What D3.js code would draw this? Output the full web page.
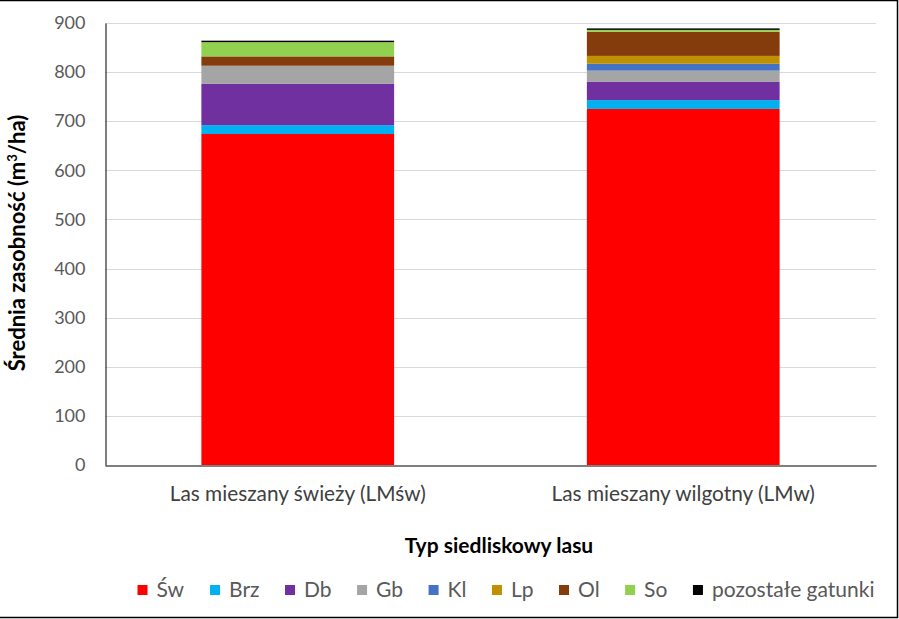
<!DOCTYPE html>
<html><head><meta charset="utf-8">
<script src="https://cdn.jsdelivr.net/npm/d3@7"></script>
<style>body{margin:0;background:#fff}svg{display:block}</style>
</head><body>
<svg id="c" width="899" height="619"></svg>
<script>
const categories = ["Las mieszany świeży (LMśw)", "Las mieszany wilgotny (LMw)"];
const speciesNames = ["Św", "Brz", "Db", "Gb", "Kl", "Lp", "Ol", "So", "pozostałe gatunki"];
const valSw  = [674, 725];
const valBrz = [18, 18];
const valDb  = [84, 37];
const valGb  = [37, 23];
const valKl  = [0, 14];
const valLp  = [0, 16];
const valOl  = [19, 49];
const valSo  = [29, 4];
const valPoz = [3, 3];
const yTicks = [0, 100, 200, 300, 400, 500, 600, 700, 800, 900];
const colors = ["#FF0000", "#00B0F0", "#7030A0", "#A5A5A5", "#4472C4", "#BF9000", "#843C0C", "#92D050", "#000000"];

const seriesVals = [valSw, valBrz, valDb, valGb, valKl, valLp, valOl, valSo, valPoz];
const table = categories.map((c, i) => {
  const o = {cat: c};
  speciesNames.forEach((s, j) => o[s] = seriesVals[j][i]);
  return o;
});
const stacked = d3.stack().keys(speciesNames)(table);

const svg = d3.select("#c");
const FONT = "Lato, 'Open Sans', sans-serif";
const pL = 105, pR = 876, pT = 23, pB = 465;

// outer border (top, right, bottom)
svg.append("path").attr("d", "M0,0.5 H897.5 V617.5 H0").attr("fill", "none").attr("stroke", "#000").attr("stroke-width", 1.5);

const x = d3.scaleBand().domain(categories).range([pL, pR]).paddingInner(0.5).paddingOuter(0.25);
const y = d3.scaleLinear().domain([0, 900]).range([pB, pT]);

// gridlines
svg.append("g").selectAll("line").data(yTicks.filter(t => t > 0)).join("line")
  .attr("x1", pL).attr("x2", pR)
  .attr("y1", d => Math.round(y(d)) + 0.5).attr("y2", d => Math.round(y(d)) + 0.5)
  .attr("stroke", "#d9d9d9").attr("stroke-width", 1);

// bars
svg.append("g").selectAll("g").data(stacked).join("g")
  .attr("fill", (d, i) => colors[i])
  .selectAll("rect").data(d => d).join("rect")
  .attr("x", d => x(d.data.cat)).attr("width", x.bandwidth())
  .attr("y", d => y(d[1])).attr("height", d => Math.max(0, y(d[0]) - y(d[1])));

// y axis
const yAxis = d3.axisLeft(y).tickValues(yTicks).tickSize(0).tickPadding(20);
const gy = svg.append("g").attr("transform", `translate(${pL + 0.5},0)`).call(yAxis);
gy.select(".domain").attr("stroke", "#000").attr("stroke-width", 1);
gy.selectAll("text").attr("font-family", FONT).attr("font-size", 18).attr("fill", "#595959");

// x axis
const xAxis = d3.axisBottom(x).tickSize(0).tickPadding(21);
const gx = svg.append("g").attr("transform", `translate(0,${pB + 0.5})`).call(xAxis);
gx.select(".domain").attr("stroke", "#000").attr("stroke-width", 1);
gx.selectAll("text").attr("font-family", FONT).attr("font-size", 20.8).attr("fill", "#404040");

// axis titles
svg.append("text").attr("x", 499).attr("y", 553).attr("text-anchor", "middle")
  .attr("font-family", FONT).attr("font-weight", "bold").attr("font-size", 21).attr("fill", "#000")
  .text("Typ siedliskowy lasu");
const yt = svg.append("text").attr("transform", "translate(25,243) rotate(-90)").attr("text-anchor", "middle")
  .attr("font-family", FONT).attr("font-weight", "bold").attr("font-size", 22).attr("fill", "#000");
yt.append("tspan").text("Średnia zasobność (m");
yt.append("tspan").attr("font-size", 13).attr("dy", -8).text("3");
yt.append("tspan").attr("dy", 8).text("/ha)");

// legend
const lg = svg.append("g");
const items = lg.selectAll("g").data(speciesNames).join("g");
items.append("rect").attr("width", 10).attr("height", 10).attr("y", -12).attr("fill", (d, i) => colors[i]);
items.append("text").attr("x", 19).attr("font-family", FONT).attr("font-size", 21).attr("fill", "#595959").text(d => d);
let cx = 0;
const gap = 25.5;
items.each(function () {
  const w = this.getBBox().width;
  d3.select(this).attr("transform", `translate(${cx},597)`);
  cx += w + gap;
});
const totalW = cx - gap;
lg.attr("transform", `translate(${506 - totalW / 2},0)`);
</script>
</body></html>
